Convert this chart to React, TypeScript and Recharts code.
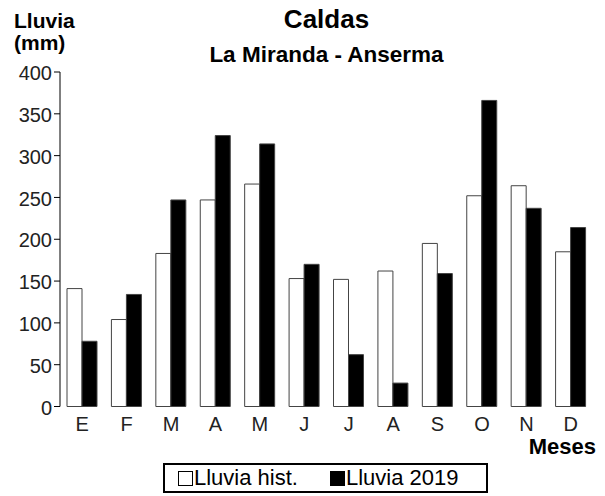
import React from 'react';
import { BarChart, Bar, XAxis, YAxis, Legend } from 'recharts';

const months = ['E', 'F', 'M', 'A', 'M', 'J', 'J', 'A', 'S', 'O', 'N', 'D'];
const lluviaHist = [141, 104, 183, 247, 266, 153, 152, 162, 195, 252, 264, 185];
const lluvia2019 = [78, 134, 247, 324, 314, 170, 62, 28, 159, 366, 237, 214];
const yTicks = [0, 50, 100, 150, 200, 250, 300, 350, 400];
const monthEdges = [0, 1, 2, 3, 4, 5, 6, 7, 8, 9, 10, 11, 12];

const data = months.map((m, i) => ({ mes: m, idx: i, hist: lluviaHist[i], y2019: lluvia2019[i] }));

const FONT = '"Liberation Sans", Arial, sans-serif';

function LegendBox() {
  const sq = (fill: string) => (
    <span style={{ display: 'inline-block', width: 13, height: 13, border: '1px solid #000', background: fill, marginRight: 1, verticalAlign: -1 }} />
  );
  return (
    <div style={{ boxSizing: 'border-box', width: 325, height: 30, border: '2px solid #000', paddingLeft: 13, fontFamily: FONT, fontSize: 22, color: '#000', lineHeight: '26px', whiteSpace: 'nowrap' }}>
      {sq('#fff')}Lluvia hist.<span style={{ display: 'inline-block', width: 32 }} />{sq('#000')}Lluvia 2019
    </div>
  );
}

export default function App() {
  return (
    <div style={{ position: 'absolute', left: 0, top: 0, width: 605, height: 496, background: '#fff', fontFamily: FONT }}>
      <div style={{ position: 'absolute', left: 0, width: 653, top: 4, textAlign: 'center', fontWeight: 'bold', fontSize: 26 }}>Caldas</div>
      <div style={{ position: 'absolute', left: 0, width: 653, top: 42, textAlign: 'center', fontWeight: 'bold', fontSize: 22.5 }}>La Miranda - Anserma</div>
      <div style={{ position: 'absolute', left: 14, top: 10, fontWeight: 'bold', fontSize: 21, lineHeight: '22px' }}>Lluvia<br />(mm)</div>
      <div style={{ position: 'absolute', right: 9, top: 434, fontWeight: 'bold', fontSize: 22 }}>Meses</div>
      <BarChart
        width={605}
        height={496}
        data={data}
        margin={{ top: 72, right: 12, left: 0, bottom: 17.5 }}
        barGap={0}
        barSize={15}
      >
        <XAxis
          xAxisId="grid"
          type="number"
          dataKey="idx"
          domain={[0, 12]}
          ticks={monthEdges}
          allowDataOverflow
          height={0}
          tickSize={5}
          tickFormatter={() => ''}
          axisLine={{ stroke: '#000' }}
          tickLine={{ stroke: '#000' }}
        />
        <XAxis
          xAxisId="cat"
          dataKey="mes"
          height={42}
          axisLine={false}
          tickLine={false}
          tick={{ fontSize: 20, fill: '#222', fontFamily: FONT, dy: 2 }}
          interval={0}
        />
        <YAxis
          domain={[0, 400]}
          ticks={yTicks}
          width={60}
          tickSize={6}
          tickMargin={2}
          axisLine={{ stroke: '#000' }}
          tickLine={{ stroke: '#000' }}
          tick={{ fontSize: 20, fill: '#222', fontFamily: FONT, dy: 1 }}
        />
        <Legend
          verticalAlign="bottom"
          height={30}
          content={() => <LegendBox />}
          wrapperStyle={{ left: 163, top: 463, bottom: 'auto', width: 325, height: 30 }}
        />
        <Bar xAxisId="cat" dataKey="hist" name="Lluvia hist." fill="#fff" stroke="#444" strokeWidth={1} isAnimationActive={false} />
        <Bar xAxisId="cat" dataKey="y2019" name="Lluvia 2019" fill="#000" stroke="#444" strokeWidth={1} isAnimationActive={false} />
      </BarChart>
    </div>
  );
}
